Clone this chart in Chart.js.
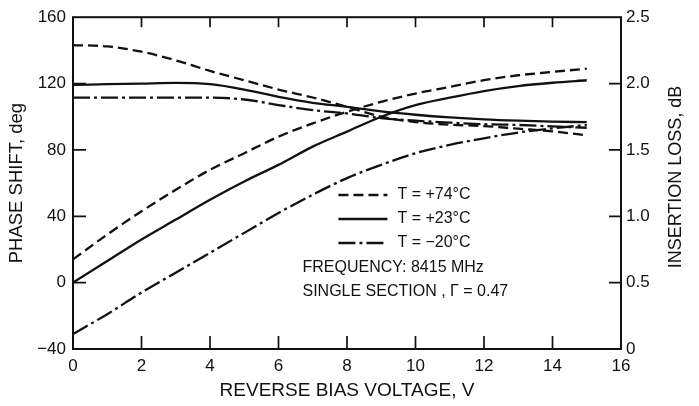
<!DOCTYPE html>
<html>
<head>
<meta charset="utf-8">
<script src="https://cdn.jsdelivr.net/npm/chart.js@4.4.0/dist/chart.umd.min.js"></script>
<style>
  html, body { margin: 0; padding: 0; background: #fff; }
  #wrap { width: 699px; height: 406px; }
</style>
</head>
<body>
<div id="wrap"><canvas id="chart"></canvas></div>
<script>
// reverse bias voltage, V
const voltage = [0, 1, 2, 3, 4, 5, 6, 7, 8, 9, 10, 11, 12, 13, 14, 15];

// phase shift, deg (left axis)
const phase74 = [14, 29, 43, 56, 68, 78, 88, 96, 103, 109, 114, 118, 122, 125, 127, 129];
const phase23 = [0, 13, 26, 38, 50, 61, 71, 82, 91, 100, 107, 111.5, 115.5, 118.5, 120.5, 122];
const phaseM20 = [-31, -19, -6, 6, 18, 30, 42, 53, 63, 71, 78, 83, 87, 90.5, 93, 95];

// insertion loss, dB (right axis)
const loss74 = [2.29, 2.28, 2.24, 2.175, 2.095, 2.025, 1.955, 1.895, 1.825, 1.75, 1.71, 1.69, 1.68, 1.66, 1.64, 1.61];
const loss23 = [1.99, 1.995, 2.0, 2.005, 1.995, 1.955, 1.9, 1.855, 1.825, 1.79, 1.765, 1.745, 1.73, 1.72, 1.713, 1.709];
const lossM20 = [1.894, 1.894, 1.894, 1.894, 1.894, 1.88, 1.838, 1.8, 1.775, 1.74, 1.72, 1.706, 1.694, 1.688, 1.677, 1.667];

const tempLabels = ['T = +74°C', 'T = +23°C', 'T = −20°C'];
const dashes = [[10, 5], [], [17, 4, 3, 4]];

const ink = '#111';
const fam = '"Liberation Sans", Arial, Helvetica, sans-serif';
Chart.defaults.font.family = fam;
Chart.defaults.color = ink;

function pts(ys) {
  return voltage.map((v, i) => ({ x: v, y: ys[i] }));
}

function line(label, ys, dash, axis) {
  return {
    label: label,
    data: pts(ys),
    yAxisID: axis,
    borderColor: ink,
    borderWidth: 2.3,
    borderDash: dash,
    pointRadius: 0,
    fill: false,
    cubicInterpolationMode: 'monotone',
  };
}

const frame = {
  id: 'frame',
  afterDraw(chart) {
    const { ctx, chartArea: a, scales } = chart;
    ctx.save();
    ctx.strokeStyle = ink;
    ctx.lineWidth = 2;
    ctx.strokeRect(a.left, a.top, a.right - a.left, a.bottom - a.top);

    // inward tick marks
    ctx.lineWidth = 1.7;
    ctx.beginPath();
    scales.x.ticks.forEach((t) => {
      if (t.value <= 0 || t.value >= 16) return;
      const px = scales.x.getPixelForValue(t.value);
      ctx.moveTo(px, a.bottom);
      ctx.lineTo(px, a.bottom - 13);
      ctx.moveTo(px, a.top);
      ctx.lineTo(px, a.top + 10);
    });
    scales.y.ticks.forEach((t) => {
      if (t.value <= -40 || t.value >= 160) return;
      const py = scales.y.getPixelForValue(t.value);
      ctx.moveTo(a.left, py);
      ctx.lineTo(a.left + 13, py);
    });
    scales.y1.ticks.forEach((t) => {
      if (t.value <= 0 || t.value >= 2.5) return;
      const py = scales.y1.getPixelForValue(t.value);
      ctx.moveTo(a.right, py);
      ctx.lineTo(a.right - 12, py);
    });
    ctx.stroke();

    // legend for the three temperatures
    ctx.font = '16px ' + fam;
    ctx.fillStyle = ink;
    ctx.textBaseline = 'middle';
    const lx = scales.x.getPixelForValue(7.75);
    chart.data.datasets.slice(0, 3).forEach((ds, i) => {
      const ly = 195 + i * 24;
      ctx.setLineDash(ds.borderDash);
      ctx.lineWidth = 2.4;
      ctx.beginPath();
      ctx.moveTo(lx, ly);
      ctx.lineTo(lx + 49, ly);
      ctx.stroke();
      ctx.setLineDash([]);
      ctx.fillText(ds.label, lx + 59, ly);
    });

    // notes
    const nx = scales.x.getPixelForValue(6.7);
    ctx.fillText('FREQUENCY: 8415 MHz', nx, 268);
    ctx.fillText('SINGLE SECTION , Γ = 0.47', nx, 292);

    // right axis title, reading upwards like the left one
    ctx.font = '18px ' + fam;
    ctx.textAlign = 'center';
    ctx.translate(676, 177);
    ctx.rotate(-Math.PI / 2);
    ctx.fillText('INSERTION LOSS, dB', 0, 0);
    ctx.restore();
  },
};

new Chart(document.getElementById('chart'), {
  type: 'line',
  data: {
    datasets: [
      line(tempLabels[0], phase74, dashes[0], 'y'),
      line(tempLabels[1], phase23, dashes[1], 'y'),
      line(tempLabels[2], phaseM20, dashes[2], 'y'),
      line(tempLabels[0], loss74, dashes[0], 'y1'),
      line(tempLabels[1], loss23, dashes[1], 'y1'),
      line(tempLabels[2], lossM20, dashes[2], 'y1'),
    ],
  },
  options: {
    responsive: true,
    maintainAspectRatio: false,
    animation: false,
    layout: { padding: { top: 12, left: 0, right: 0, bottom: 0 } },
    plugins: { legend: { display: false }, tooltip: { enabled: false } },
    scales: {
      x: {
        type: 'linear',
        min: 0,
        max: 16,
        grid: { display: false, drawTicks: false },
        border: { display: false },
        ticks: { stepSize: 2, padding: 7, font: { size: 17 } },
        title: {
          display: true,
          text: 'REVERSE BIAS VOLTAGE, V',
          font: { size: 19 },
          padding: { top: 0, bottom: 4 },
        },
        afterFit: (s) => { s.height = 57; },
      },
      y: {
        position: 'left',
        min: -40,
        max: 160,
        grid: { display: false, drawTicks: false },
        border: { display: false },
        ticks: {
          stepSize: 40,
          padding: 7,
          font: { size: 17 },
          callback: (v) => (v < 0 ? '−' + Math.abs(v) : v),
        },
        title: {
          display: true,
          text: 'PHASE SHIFT, deg',
          font: { size: 18.5 },
          padding: { top: 6, bottom: 0 },
        },
        afterFit: (s) => { s.width = 73; },
      },
      y1: {
        position: 'right',
        min: 0,
        max: 2.5,
        grid: { display: false, drawTicks: false },
        border: { display: false },
        ticks: {
          stepSize: 0.5,
          padding: 5,
          font: { size: 17 },
          callback: (v) => (v === 0 ? '0' : v.toFixed(1)),
        },
        afterFit: (s) => { s.width = 78; },
      },
    },
  },
  plugins: [frame],
});
</script>
</body>
</html>
